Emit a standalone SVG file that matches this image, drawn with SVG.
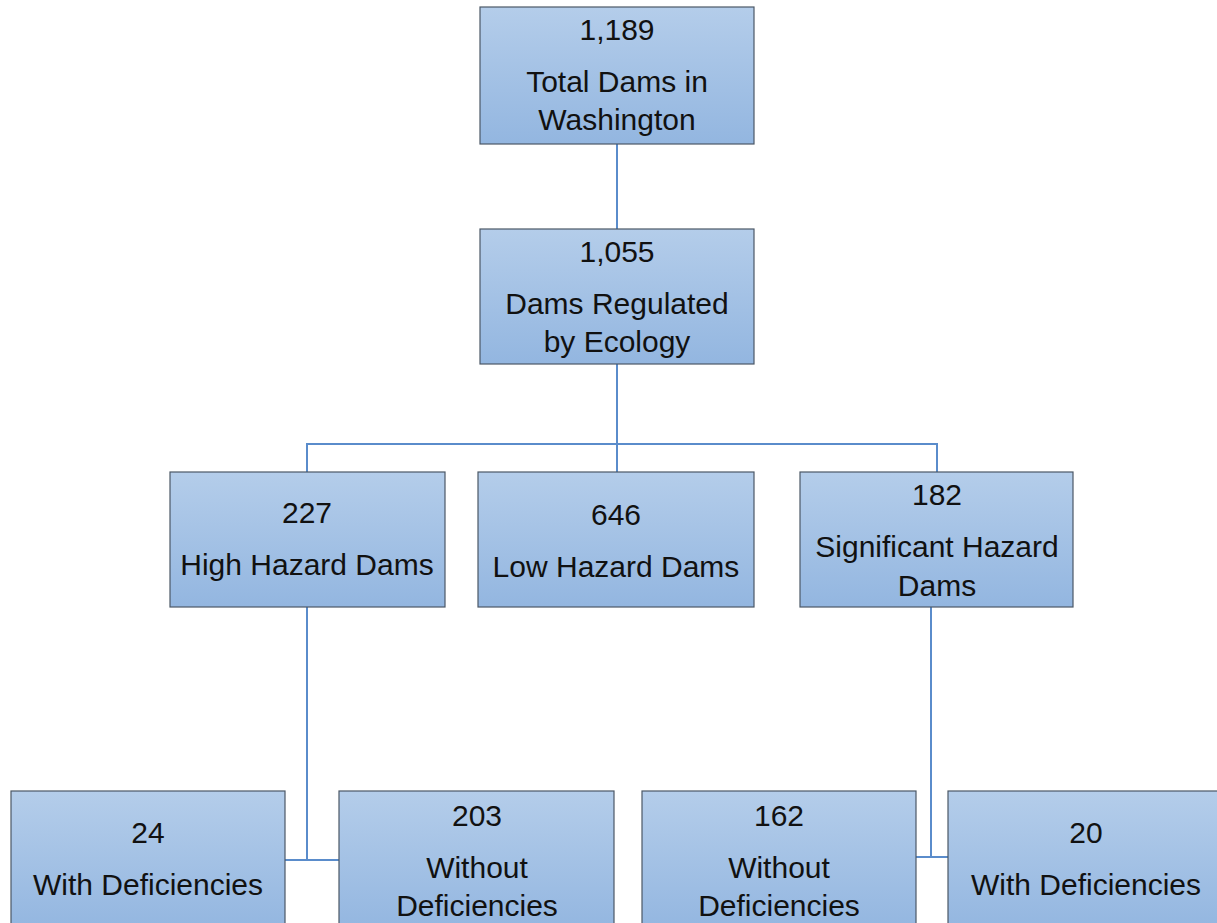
<svg xmlns="http://www.w3.org/2000/svg" width="1217" height="923" viewBox="0 0 1217 923">
<defs>
<linearGradient id="g" x1="0" y1="0" x2="0" y2="1">
<stop offset="0" stop-color="#b4cdea"/>
<stop offset="1" stop-color="#93b6e0"/>
</linearGradient>
</defs>
<style>
.box{fill:url(#g);stroke:#4b5866;stroke-width:1.2}
.t{font-family:"Liberation Sans",Arial,sans-serif;font-size:30px;fill:#111;text-anchor:middle}
.c{fill:none;stroke:#5a8ccb;stroke-width:2}
</style>
<rect width="1217" height="923" fill="#fff"/>
<g id="connectors">
<path class="c" d="M617 144V229"/>
<path class="c" d="M617 364V472"/>
<path class="c" d="M307 472V444H937V472"/>
<path class="c" d="M307 607V860H285M307 860H339"/>
<path class="c" d="M931 607V857H916M931 857H948"/>
</g>
<g id="n1"><rect class="box" x="480" y="7" width="274" height="137"/>
<text class="t" x="617" y="40">1,189</text><text class="t" x="617" y="92">Total Dams in</text><text class="t" x="617" y="130">Washington</text></g>
<g id="n2"><rect class="box" x="480" y="229" width="274" height="135"/>
<text class="t" x="617" y="262">1,055</text><text class="t" x="617" y="314">Dams Regulated</text><text class="t" x="617" y="352">by Ecology</text></g>
<g id="n3"><rect class="box" x="170" y="472" width="275" height="135"/>
<text class="t" x="307" y="523">227</text><text class="t" x="307" y="575">High Hazard Dams</text></g>
<g id="n4"><rect class="box" x="478" y="472" width="276" height="135"/>
<text class="t" x="616" y="525">646</text><text class="t" x="616" y="577">Low Hazard Dams</text></g>
<g id="n5"><rect class="box" x="800" y="472" width="273" height="135"/>
<text class="t" x="937" y="505">182</text><text class="t" x="937" y="557">Significant Hazard</text><text class="t" x="937" y="596">Dams</text></g>
<g id="n6"><rect class="box" x="11" y="791" width="274" height="140"/>
<text class="t" x="148" y="843">24</text><text class="t" x="148" y="895">With Deficiencies</text></g>
<g id="n7"><rect class="box" x="339" y="791" width="275" height="140"/>
<text class="t" x="477" y="826">203</text><text class="t" x="477" y="878">Without</text><text class="t" x="477" y="916">Deficiencies</text></g>
<g id="n8"><rect class="box" x="642" y="791" width="274" height="140"/>
<text class="t" x="779" y="826">162</text><text class="t" x="779" y="878">Without</text><text class="t" x="779" y="916">Deficiencies</text></g>
<g id="n9"><rect class="box" x="948" y="791" width="274" height="140"/>
<text class="t" x="1086" y="843">20</text><text class="t" x="1086" y="895">With Deficiencies</text></g>
</svg>
